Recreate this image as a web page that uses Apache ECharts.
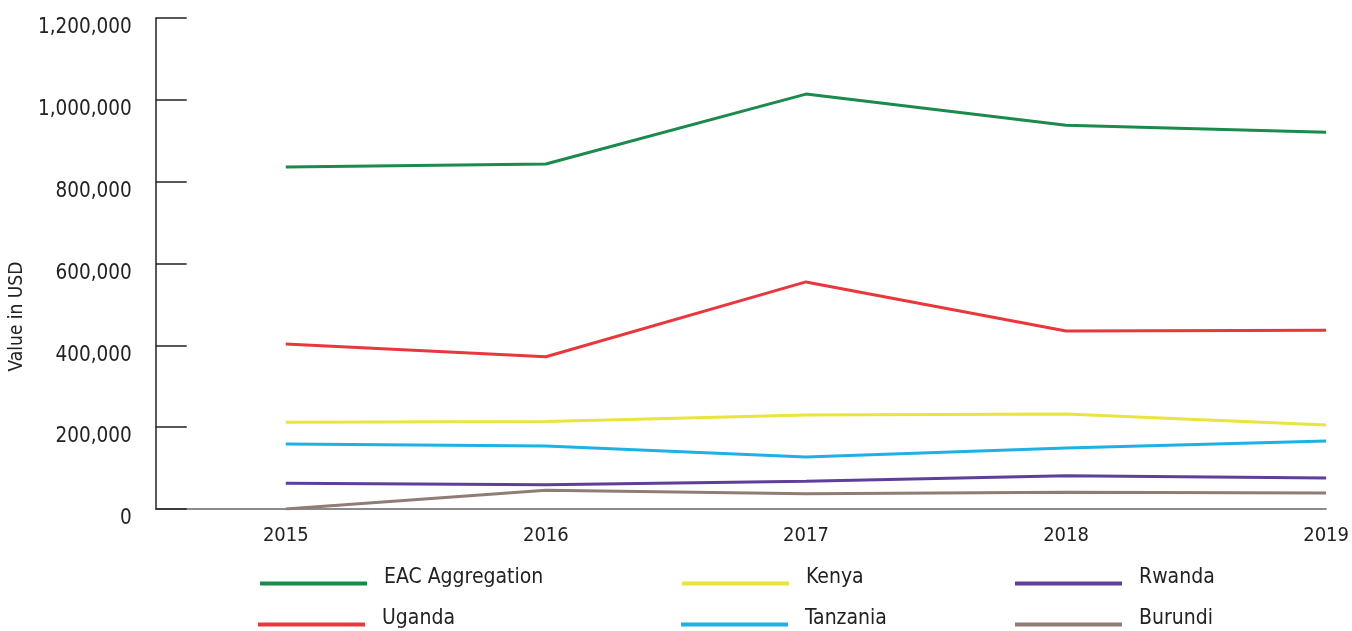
<!DOCTYPE html>
<html><head><meta charset="utf-8">
<script src="https://cdn.jsdelivr.net/npm/echarts@6/dist/echarts.min.js"></script>
<style>html,body{margin:0;padding:0;background:#fff}#c{width:1352px;height:631px}</style>
</head><body><div id="c"></div>
<script>
var years = [2015, 2016, 2017, 2018, 2019];
var eac = [836000, 843000, 1014000, 938000, 921000];
var uganda = [403000, 372000, 555000, 435000, 437000];
var kenya = [212000, 214000, 230000, 232000, 205000];
var tanzania = [159000, 154000, 127000, 149000, 166000];
var rwanda = [63000, 59000, 68000, 81000, 76000];
var burundi = [0, 46000, 37000, 41000, 39000];
var yTicks = [0, 200000, 400000, 600000, 800000, 1000000, 1200000];

var FONT = "'DejaVu Sans Condensed', 'DejaVu Sans', sans-serif";
var names = ['EAC Aggregation','Kenya','Rwanda','Uganda','Tanzania','Burundi'];
var colors = {'EAC Aggregation':'#1b8a4c','Uganda':'#e8383d','Kenya':'#e9e43e','Tanzania':'#1fb0e6','Rwanda':'#5f3f99','Burundi':'#8f7c74'};
var values = {'EAC Aggregation':eac,'Uganda':uganda,'Kenya':kenya,'Tanzania':tanzania,'Rwanda':rwanda,'Burundi':burundi};
var order = ['EAC Aggregation','Uganda','Kenya','Tanzania','Rwanda','Burundi'];

var legendPos = {
  'EAC Aggregation':[255,562],'Kenya':[677,562],'Rwanda':[1010,562],
  'Uganda':[253,603],'Tanzania':[676,603],'Burundi':[1010,603]
};
var legends = names.map(function(n){
  return {data:[n], left:legendPos[n][0], top:legendPos[n][1], icon:'rect', itemWidth:107, itemHeight:4, itemGap:0,
    formatter:'{a|{name}}',
    textStyle:{fontFamily:FONT, fontSize:21, color:'#222',
      rich:{a:{fontFamily:FONT, fontSize:21, color:'#222', padding:[0,0,12,12]}}}, selectedMode:false};
});

var series = order.map(function(n){
  return {name:n, type:'line', data: years.map(function(y,i){return [y, values[n][i]];}),
    symbol:'none', lineStyle:{width:3, color:colors[n]}, itemStyle:{color:colors[n]}, z: 2};
});

var chart = echarts.init(document.getElementById('c'));
chart.setOption({
  animation:false,
  legend: legends,
  grid:{left:155, top:18, right:24, bottom:122},
  xAxis:{type:'value', min:2014.5, max:2019, interval:0.5,
    axisLine:{lineStyle:{color:'#666', width:1.5}}, axisTick:{show:false}, splitLine:{show:false},
    axisLabel:{fontFamily:FONT, fontSize:20, color:'#222', margin:17,
      formatter:function(v){return (v%1===0)? String(v):'';}}},
  yAxis:{type:'value', min:0, max:1200000, interval:200000,
    name:'Value in USD', nameLocation:'middle', nameGap:121,
    nameTextStyle:{fontFamily:FONT, fontSize:19, color:'#222', padding:[0,106,0,0]},
    axisLine:{show:true, lineStyle:{color:'#222', width:1.5}},
    axisTick:{show:true, inside:true, length:31, lineStyle:{color:'#222', width:1.5}},
    splitLine:{show:false},
    axisLabel:{fontFamily:FONT, fontSize:20.5, color:'#222', margin:24, verticalAlign:'top', lineHeight:20,
      formatter:function(v){return v.toLocaleString('en-US');}}},
  series: series
});
</script></body></html>
